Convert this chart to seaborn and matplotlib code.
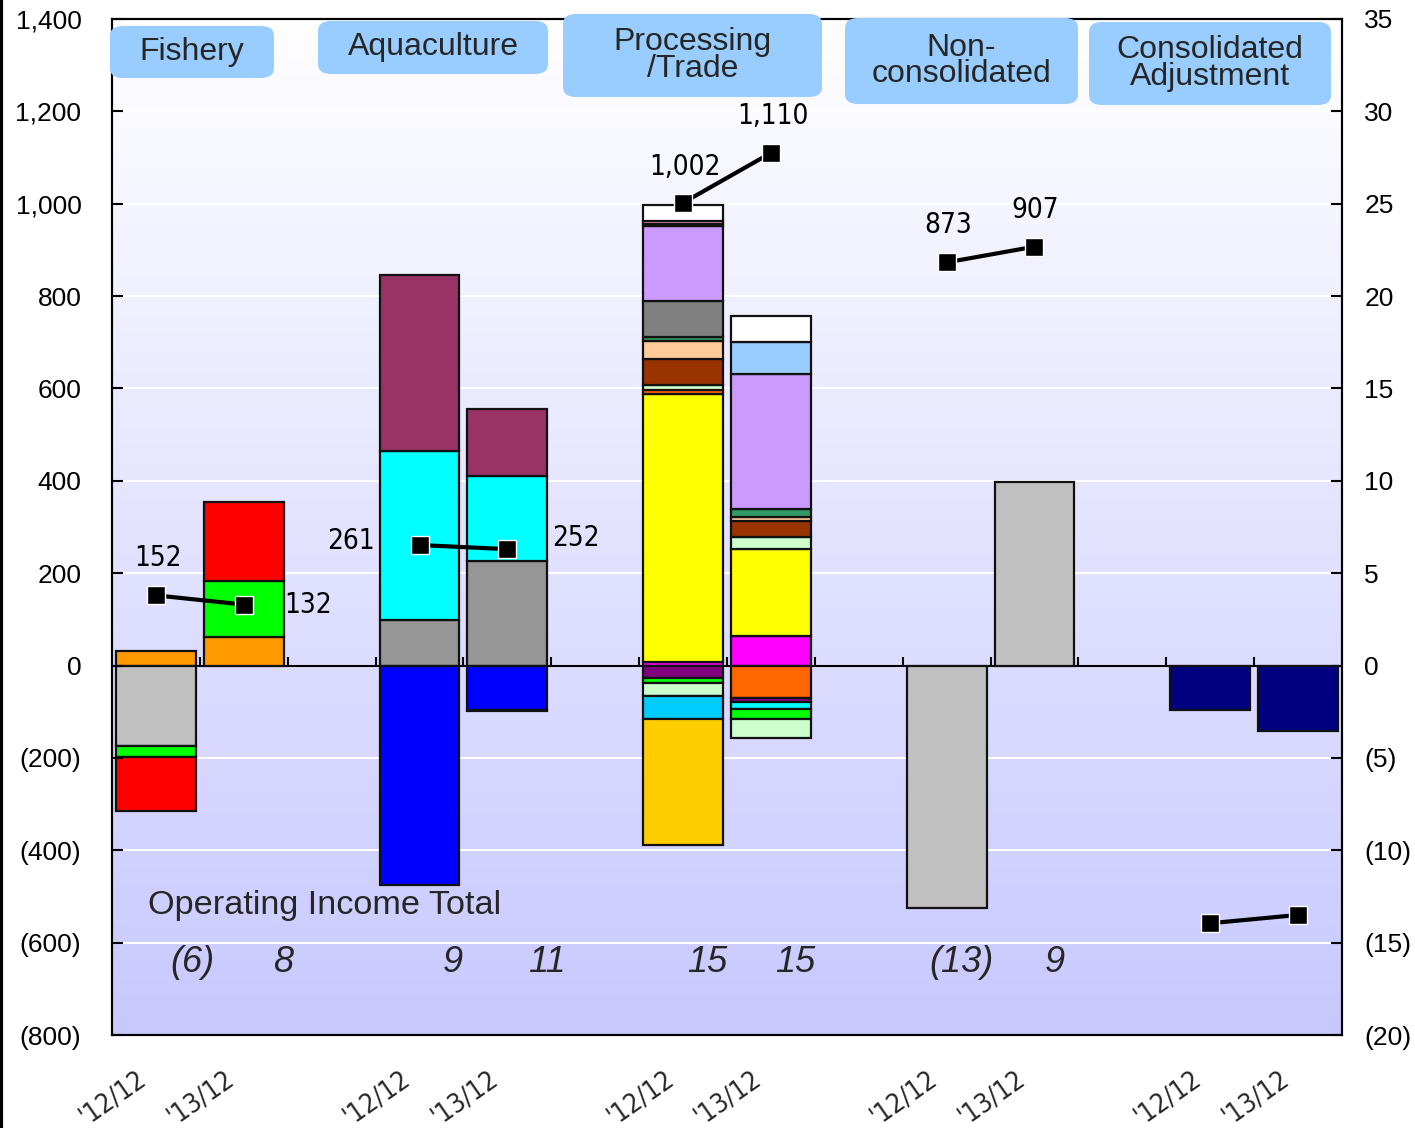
import numpy as np
import seaborn as sns
import matplotlib.pyplot as plt
from matplotlib import font_manager as fm
from matplotlib.colors import LinearSegmentedColormap
from matplotlib.patches import FancyBboxPatch
from matplotlib.lines import Line2D
from matplotlib.ticker import FuncFormatter
from matplotlib.transforms import ScaledTranslation

sns.set_theme(style='white')
plt.rcParams['font.family'] = ['Liberation Sans', 'DejaVu Sans']

# pick a narrow face for the number labels if one is installed
installed = [(f.name, f.stretch) for f in fm.fontManager.ttflist]
if any(n == 'Liberation Sans Narrow' for n, s in installed):
    NARROW = dict(family=['Liberation Sans Narrow', 'DejaVu Sans'])
elif any(n == 'DejaVu Sans' and 'ondensed' in str(s) for n, s in installed):
    NARROW = dict(family=['DejaVu Sans'], stretch='condensed')
else:
    NARROW = dict(family=['Liberation Sans', 'DejaVu Sans'])

# ---- data ----
segments = ['Fishery', 'Aquaculture', 'Processing\n/Trade', 'Non-\nconsolidated', 'Consolidated\nAdjustment']
periods = ["'12/12", "'13/12"]
bar_x = [0, 1, 3, 4, 6, 7, 9, 10, 12, 13]

# sales (left axis)
sales_12 = [152, 261, 1002, 873, -558]
sales_13 = [132, 252, 1110, 907, -540]

# operating income total per bar (right axis)
op_total = [-6, 8, 9, 11, 15, 15, -13, 9]

# stacked operating income by company (right axis), drawn in list order
fish12_vals = [0.81, -4.33, -0.60, -2.92]
fish13_vals = [1.52, 3.03, 4.28]
aqua12_vals = [2.44, 9.15, 9.53, -11.86]
aqua13_vals = [5.68, 4.60, 3.63, -2.38, -0.10]
proc12_vals = [0.20, 14.50, 0.20, 0.30, 1.40, 0.97, 0.22, 1.95, 4.06, 0.10, 0.15, 0.87,
               -0.65, -0.32, -0.70, -1.24, -6.82]
proc13_vals = [1.62, 4.71, 0.65, 0.87, 0.20, 0.43, 7.31, 1.73, 1.41,
               -1.73, -0.27, -0.33, -0.54, -1.03]
noncon12_vals = [-13.15]
noncon13_vals = [9.96]
adj12_vals = [-2.38]
adj13_vals = [-3.52]

# colours
fish12_cols = ['#ff9900', '#c0c0c0', '#00ff00', '#ff0000']
fish13_cols = ['#ff9900', '#00ff00', '#ff0000']
aqua12_cols = ['#969696', '#00ffff', '#993366', '#0000ff']
aqua13_cols = ['#969696', '#00ffff', '#993366', '#0000ff', '#ff6600']
proc12_cols = ['#ff00ff', '#ffff00', '#ff6600', '#ccffcc', '#993300', '#ffcc99', '#339966',
               '#808080', '#cc99ff', '#99ccff', '#ff99cc', '#ffffff',
               '#800080', '#00ff00', '#ccffcc', '#00ccff', '#ffcc00']
proc13_cols = ['#ff00ff', '#ffff00', '#ccffcc', '#993300', '#ffcc99', '#339966', '#cc99ff',
               '#99ccff', '#ffffff',
               '#ff6600', '#800080', '#00ffff', '#00ff00', '#ccffcc']
noncon12_cols = ['#c0c0c0']
noncon13_cols = ['#c0c0c0']
adj12_cols = ['#000080']
adj13_cols = ['#000080']

all_vals = [fish12_vals, fish13_vals, aqua12_vals, aqua13_vals, proc12_vals, proc13_vals,
            noncon12_vals, noncon13_vals, adj12_vals, adj13_vals]
all_cols = [fish12_cols, fish13_cols, aqua12_cols, aqua13_cols, proc12_cols, proc13_cols,
            noncon12_cols, noncon13_cols, adj12_cols, adj13_cols]

# ---- figure ----
W, H = 1415, 1128
fig = plt.figure(figsize=(W / 100, H / 100), dpi=100)
ax = fig.add_axes([112 / W, (H - 1035) / H, 1230 / W, 1016 / H])
ax2 = ax.twinx()
ax.set_zorder(ax2.get_zorder() + 1)
ax.patch.set_visible(False)

# background gradient
cmap = LinearSegmentedColormap.from_list('bg', ['#c8c8ff', '#ffffff'])
grad = np.linspace(0, 1, 256).reshape(-1, 1)
ax2.imshow(grad, cmap=cmap, origin='lower', aspect='auto',
           extent=[-0.5, 13.5, -20, 35], zorder=0)
ax2.grid(axis='y', color='white', lw=1.5)
ax2.set_axisbelow(True)

# stacked bars
for x, vals, cols in zip(bar_x, all_vals, all_cols):
    pos, neg = 0.0, 0.0
    for v, c in zip(vals, cols):
        if v >= 0:
            ax2.bar(x, v, bottom=pos, width=0.91, color=c, edgecolor='#111111', lw=1.6, zorder=2)
            pos += v
        else:
            ax2.bar(x, v, bottom=neg, width=0.91, color=c, edgecolor='#111111', lw=1.6, zorder=2)
            neg += v

ax2.axhline(0, color='black', lw=1.5, zorder=1.5)
ax2.vlines(np.arange(0.5, 13, 1), 0, 0.45, color='black', lw=1.5, zorder=1.5)

# sales lines
for i in range(5):
    sns.lineplot(x=[bar_x[2 * i], bar_x[2 * i + 1]], y=[sales_12[i], sales_13[i]], ax=ax,
                 color='black', lw=3, marker='s', markersize=13,
                 markerfacecolor='black', markeredgecolor='white', markeredgewidth=1)

off_12 = [(2, 37), (-69, 4), (2, 36), (1, 37)]
off_13 = [(64, 0), (69, 11), (2, 37), (1, 37)]
for i in range(4):
    for v, xx, off in [(sales_12[i], bar_x[2 * i], off_12[i]), (sales_13[i], bar_x[2 * i + 1], off_13[i])]:
        ax.annotate(f'{v:,}', (xx, v), xytext=off, textcoords='offset pixels',
                    ha='center', va='center', fontsize=20, color='black', **NARROW)

# operating income totals
tot_off = [0.41, 0.45, 0.38, 0.45, 0.28, 0.28, 0.17, 0.23]
for x, v, o in zip(bar_x, op_total, tot_off):
    s = f'({abs(v)})' if v < 0 else f'{v}'
    ax2.text(x + o, -16.1, s, ha='center', va='center', fontsize=26, style='italic')
ax2.text(-0.09, -12.97, 'Operating Income Total', ha='left', va='center', fontsize=24.7)

# axes
ax.set_xlim(-0.5, 13.5)
ax2.set_xlim(-0.5, 13.5)
ax.set_ylim(-800, 1400)
ax2.set_ylim(-20, 35)
ax.set_yticks(range(-800, 1401, 200))
ax2.set_yticks(range(-20, 36, 5))
paren = FuncFormatter(lambda v, p: f'({abs(v):,.0f})' if v < 0 else f'{v:,.0f}')
ax.yaxis.set_major_formatter(paren)
ax2.yaxis.set_major_formatter(paren)
ax.tick_params(axis='y', direction='in', length=8, width=1.5, labelsize=19, pad=22, left=True, colors='black')
ax2.tick_params(axis='y', direction='in', length=8, width=1.5, labelsize=19, pad=16, right=True, colors='black')
ax.set_xticks(bar_x)
ax.set_xticklabels(periods * 5, rotation=35, ha='right', rotation_mode='anchor',
                   fontsize=19, **NARROW)
ax.tick_params(axis='x', length=0, pad=24)
shift = ScaledTranslation(-19 / 100, 2 / 100, fig.dpi_scale_trans)
for lab in ax.get_xticklabels():
    lab.set_transform(lab.get_transform() + shift)
for a in (ax, ax2):
    for sp in a.spines.values():
        sp.set_color('black')
        sp.set_linewidth(1.5)
ax.set_xlabel('')
ax.set_ylabel('')

# segment header boxes (pixel rects)
boxes = [(110, 274, 26, 78), (318, 548, 21, 74), (563, 822, 14, 97), (845, 1078, 18, 104), (1089, 1331, 22, 105)]
for name, (x0, x1, y0, y1) in zip(segments, boxes):
    p = FancyBboxPatch((x0 / W, (H - y1) / H), (x1 - x0) / W, (y1 - y0) / H,
                       boxstyle='round,pad=0,rounding_size=0.009', transform=fig.transFigure,
                       fc='#99ccff', ec='none', zorder=5)
    fig.add_artist(p)
    fig.text((x0 + x1) / 2 / W, (H - (y0 + y1) / 2) / H, name, ha='center', va='center',
             fontsize=23, linespacing=0.85, zorder=6)

fig.add_artist(Line2D([0.001, 0.001], [0, 1], color='black', lw=3, transform=fig.transFigure))

fig.savefig('out.png', dpi=100)
